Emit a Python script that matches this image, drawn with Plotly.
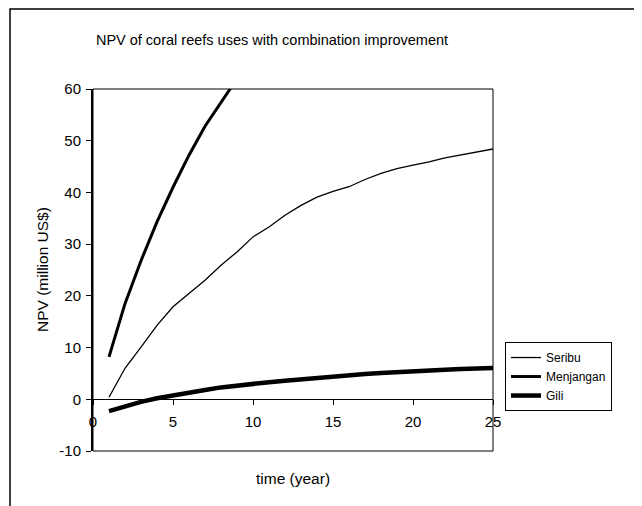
"""NPV of coral reef uses with combination improvement."""

import plotly.graph_objects as go

years = list(range(1, 26))

seribu = [0.4, 6.0, 10.1, 14.3, 17.9, 20.4, 23.0, 25.9, 28.5, 31.4,
          33.3, 35.6, 37.5, 39.1, 40.2, 41.1, 42.5, 43.7, 44.6, 45.3,
          45.9, 46.7, 47.3, 47.8, 48.4]

# only the part below 60 is visible; the rest leaves the plot
menjangan_years = list(range(1, 11))
menjangan = [8.2, 18.5, 26.8, 34.3, 41.0, 47.2, 52.8, 57.4, 62.0, 66.0]

gili = [-2.3, -1.3, -0.5, 0.2, 0.8, 1.3, 1.8, 2.3, 2.7, 3.0,
        3.3, 3.6, 3.9, 4.2, 4.5, 4.7, 4.9, 5.1, 5.3, 5.5,
        5.6, 5.7, 5.85, 5.95, 6.05]

y_ticks = [-10, 0, 10, 20, 30, 40, 50, 60]
y_tick_text = ["-10", "0", "10", "20", "30", "40", "50", "60"]

FONT = "Liberation Sans, Arial, sans-serif"

# the page body adds an 8px margin, so the figure is drawn 8px smaller
W, H = 634, 498

fig = go.Figure()
fig.add_trace(go.Scatter(x=years, y=seribu, mode="lines", name="Seribu",
                         line=dict(color="black", width=1.3)))
fig.add_trace(go.Scatter(x=menjangan_years, y=menjangan, mode="lines", name="Menjangan",
                         line=dict(color="black", width=3)))
fig.add_trace(go.Scatter(x=years, y=gili, mode="lines", name="Gili",
                         line=dict(color="black", width=4.5)))

fig.update_layout(
    width=W,
    height=H,
    margin=dict(l=85, r=149, t=81, b=55),
    paper_bgcolor="white",
    plot_bgcolor="white",
    font=dict(family=FONT, color="black", size=15),
    showlegend=True,
    legend=dict(
        x=1.03, y=0.301, xanchor="left", yanchor="top",
        bordercolor="black", borderwidth=1,
        font=dict(size=12), itemwidth=30, tracegroupgap=0,
    ),
    title=dict(
        text="NPV of coral reefs uses with combination improvement",
        x=(272 - 8) / W, xanchor="center", y=1 - (40 - 8) / H, yanchor="middle",
        font=dict(size=14.5),
    ),
)

fig.update_xaxes(
    range=[0, 25], tick0=0, dtick=5,
    anchor="free", position=10 / 70, side="bottom",
    showline=True, linecolor="black", linewidth=1,
    ticks="outside", ticklen=5, tickcolor="black", ticklabelstandoff=4,
    showgrid=False, zeroline=False,
)
fig.update_yaxes(
    range=[-10, 60], tickvals=y_ticks, ticktext=y_tick_text,
    showline=True, linecolor="black", linewidth=2,
    ticks="outside", ticklen=5, tickcolor="black", ticklabelstandoff=2,
    showgrid=False, zeroline=False,
)

# plot area box
fig.add_shape(type="rect", xref="x domain", yref="y domain",
              x0=0, x1=1, y0=0, y1=1, line=dict(color="black", width=1))
# chart area border (runs off the right and bottom of the picture)
fig.add_shape(type="rect", xref="paper", yref="paper",
              x0=(10 - 93) / 400, x1=1.6, y0=-0.3, y1=1 + (89 - 9) / 362,
              line=dict(color="black", width=1.5), layer="below")

fig.add_annotation(text="time (year)", xref="paper", yref="paper",
                   x=0.5, y=-(478 - 451) / 362, xanchor="center", yanchor="middle",
                   showarrow=False, font=dict(size=15.5))
fig.add_annotation(text="NPV (million US$)", xref="paper", yref="paper",
                   x=(42 - 93) / 400, y=0.5, xanchor="center", yanchor="middle",
                   textangle=-90, showarrow=False, font=dict(size=15.5))

fig.write_html("out.html")
